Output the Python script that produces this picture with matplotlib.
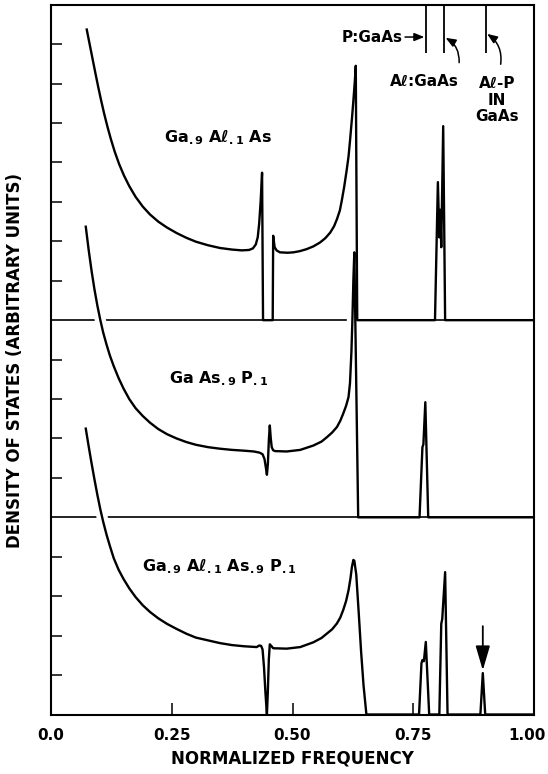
import matplotlib
matplotlib.use("Agg")
import matplotlib.pyplot as plt
from matplotlib.transforms import ScaledTranslation
import numpy as np

plt.rcParams['font.family'] = ['DejaVu Sans']
plt.rcParams['font.weight'] = 'bold'
plt.rcParams['mathtext.default'] = 'regular'

# normalized frequency / density of states (arbitrary units, above each baseline)
f_alas = [0.074, 0.080, 0.086, 0.092, 0.098, 0.104, 0.110, 0.117, 0.124, 0.132,
          0.141, 0.151, 0.162, 0.175, 0.190, 0.205, 0.222, 0.240, 0.260, 0.280,
          0.300, 0.325, 0.350, 0.375, 0.395, 0.410, 0.418, 0.424, 0.428, 0.431,
          0.434, 0.437, 0.439, 0.459, 0.460, 0.463, 0.467, 0.474, 0.490, 0.502,
          0.515, 0.529, 0.543, 0.557, 0.568, 0.578, 0.586, 0.592, 0.598, 0.602,
          0.607, 0.612, 0.616, 0.619, 0.623, 0.626, 0.629, 0.631, 0.634, 0.795,
          0.801, 0.804, 0.806, 0.808, 0.812, 0.816, 1.0]
d_alas = [7.37, 7.00, 6.63, 6.26, 5.90, 5.56, 5.24, 4.90, 4.59, 4.27,
          3.96, 3.67, 3.40, 3.13, 2.88, 2.68, 2.50, 2.35, 2.21, 2.09,
          1.99, 1.90, 1.83, 1.79, 1.77, 1.78, 1.82, 1.92, 2.10, 2.45,
          3.00, 3.74, 0.0, 0.0, 2.14, 1.85, 1.77, 1.72, 1.71, 1.72,
          1.75, 1.80, 1.87, 1.97, 2.08, 2.22, 2.38, 2.56, 2.78, 3.03,
          3.38, 3.79, 4.15, 4.54, 5.10, 5.56, 6.05, 6.45, 0.0, 0.0,
          3.50, 2.10, 2.80, 1.85, 4.92, 0.0, 0.0]

f_asp = [0.072, 0.078, 0.084, 0.090, 0.096, 0.102, 0.108, 0.115, 0.122, 0.130,
         0.140, 0.150, 0.162, 0.175, 0.190, 0.205, 0.222, 0.240, 0.260, 0.280,
         0.300, 0.325, 0.350, 0.375, 0.400, 0.420, 0.432, 0.438, 0.442, 0.445,
         0.447, 0.449, 0.451, 0.453, 0.455, 0.457, 0.460, 0.464, 0.488, 0.516,
         0.543, 0.560, 0.571, 0.582, 0.592, 0.599, 0.605, 0.611, 0.616, 0.619,
         0.622, 0.624, 0.626, 0.628, 0.636, 0.763, 0.769, 0.771, 0.775, 0.781,
         1.0]
d_asp = [7.37, 6.78, 6.25, 5.78, 5.37, 5.01, 4.69, 4.38, 4.10, 3.83,
         3.53, 3.27, 3.00, 2.77, 2.57, 2.40, 2.24, 2.11, 2.00, 1.91,
         1.84, 1.78, 1.74, 1.71, 1.69, 1.67, 1.64, 1.60, 1.48, 1.25,
         1.08, 1.35, 1.95, 2.33, 2.00, 1.78, 1.70, 1.68, 1.67, 1.71,
         1.82, 1.92, 2.03, 2.15, 2.29, 2.45, 2.63, 2.83, 3.05, 3.40,
         4.20, 5.00, 6.00, 6.72, 0.0, 0.0, 1.78, 1.85, 2.92, 0.0,
         0.0]

f_alasp = [0.072, 0.078, 0.084, 0.090, 0.096, 0.102, 0.108, 0.115, 0.122, 0.130,
           0.140, 0.150, 0.162, 0.175, 0.190, 0.205, 0.222, 0.240, 0.260, 0.280,
           0.300, 0.325, 0.350, 0.375, 0.400, 0.426, 0.431, 0.435, 0.438, 0.441,
           0.444, 0.447, 0.449, 0.451, 0.453, 0.456, 0.460, 0.488, 0.516, 0.543,
           0.560, 0.571, 0.582, 0.592, 0.599, 0.605, 0.611, 0.616, 0.620, 0.623,
           0.626, 0.628, 0.632, 0.637, 0.642, 0.647, 0.653, 0.762, 0.767, 0.769,
           0.772, 0.776, 0.783, 0.804, 0.808, 0.810, 0.816, 0.821, 0.889, 0.894,
           0.899, 1.0]
d_alasp = [7.25, 6.80, 6.37, 5.96, 5.57, 5.21, 4.89, 4.56, 4.27, 3.96,
           3.67, 3.44, 3.20, 2.98, 2.77, 2.60, 2.44, 2.30, 2.17, 2.05,
           1.95, 1.88, 1.81, 1.76, 1.73, 1.71, 1.75, 1.74, 1.65, 1.20,
           0.55, 0.0, 0.60, 1.40, 1.78, 1.74, 1.68, 1.67, 1.71, 1.83,
           1.94, 2.05, 2.16, 2.31, 2.46, 2.65, 2.88, 3.15, 3.45, 3.74,
           3.92, 3.90, 3.55, 2.60, 1.60, 0.75, 0.0, 0.0, 1.30, 1.38,
           1.35, 1.84, 0.0, 0.0, 2.30, 2.42, 3.61, 0.0, 0.0, 1.05,
           0.0, 0.0]

curves = [(f_alas, d_alas), (f_asp, d_asp), (f_alasp, d_alasp)]
baselines = [10, 5, 0]
names = ['Ga$_{.9}$ Aℓ$_{.1}$ As', 'Ga As$_{.9}$ P$_{.1}$', 'Ga$_{.9}$ Aℓ$_{.1}$ As$_{.9}$ P$_{.1}$']
name_pos = [(0.233, 14.50), (0.245, 8.40), (0.188, 3.62)]

# impurity mode markers at top
marker_f = [0.776, 0.814, 0.900]

xticks = [0.0, 0.25, 0.50, 0.75, 1.00]
xticklabels = ['0.0', '0.25', '0.50', '0.75', '1.00']
yticks = [1, 2, 3, 4, 6, 7, 8, 9, 11, 12, 13, 14, 15, 16, 17]

fig = plt.figure(figsize=(5.48, 7.74), dpi=100)
ax = fig.add_axes([51 / 548, 59.5 / 774, 483 / 548, 709.8 / 774])
ax.set_xlim(0, 1)
ax.set_ylim(0, 18)

# layering: a lower curve's white halo breaks only the baselines above it
ax.axhline(10, color='k', lw=1.2, zorder=1.0)
ax.axhline(5, color='k', lw=1.2, zorder=1.2)
halo_z = [None, 1.1, 1.3]

for (f, d), b, hz in zip(curves, baselines, halo_z):
    y = np.array(d) + b
    if hz is not None:
        ax.plot(f, y, color='white', lw=8, zorder=hz, solid_capstyle='butt')
    ax.plot(f, y, color='k', lw=1.7, zorder=3)

for txt, (x, y) in zip(names, name_pos):
    ax.text(x, y, txt, fontsize=11.5, fontweight='bold', ha='left', va='baseline')

ax.vlines(marker_f, 16.77, 18, color='k', lw=1.3)

ax.text(0.728, 17.18, 'P:GaAs', fontsize=11, ha='right', va='center')
ax.annotate('', xy=(0.773, 17.18), xytext=(0.733, 17.18),
            arrowprops=dict(arrowstyle='-|>,head_length=0.5,head_width=0.2',
                            color='k', lw=1.1, mutation_scale=12, shrinkA=0, shrinkB=0))
ax.text(0.772, 16.05, 'Aℓ:GaAs', fontsize=11, ha='center', va='center')
ax.annotate('', xy=(0.817, 17.16), xytext=(0.845, 16.53),
            arrowprops=dict(arrowstyle='-|>,head_length=0.5,head_width=0.2',
                            connectionstyle='arc3,rad=0.3',
                            color='k', lw=1.1, mutation_scale=12, shrinkA=0, shrinkB=0))
ax.text(0.923, 15.58, 'Aℓ-P\nIN\nGaAs', fontsize=11, ha='center', va='center',
        linespacing=1.1)
ax.annotate('', xy=(0.903, 17.26), xytext=(0.931, 16.49),
            arrowprops=dict(arrowstyle='-|>,head_length=0.5,head_width=0.2',
                            connectionstyle='arc3,rad=0.3',
                            color='k', lw=1.1, mutation_scale=12, shrinkA=0, shrinkB=0))

# arrow over the Al-P peak in the quaternary
ax.annotate('', xy=(0.894, 1.12), xytext=(0.894, 2.24),
            arrowprops=dict(arrowstyle='-|>,head_length=0.75,head_width=0.22',
                            color='k', lw=1.3, mutation_scale=20, shrinkA=0, shrinkB=0))

ax.set_xticks(xticks)
ax.set_xticklabels(xticklabels, fontsize=11, fontweight='bold')
ax.set_yticks(yticks)
ax.tick_params(axis='x', direction='in', length=8.5, width=1.1, pad=9.5)
ax.tick_params(axis='y', direction='in', length=8, width=1.1, labelleft=False)
ax.xaxis.set_zorder(2.6)
ax.yaxis.set_zorder(2.6)
for s in ax.spines.values():
    s.set_linewidth(1.5)

# pull the last tick label in a little so it stays on the page
last = ax.get_xticklabels()[-1]
last.set_transform(last.get_transform() + ScaledTranslation(-0.07, 0, fig.dpi_scale_trans))

ax.set_xlabel('NORMALIZED FREQUENCY', fontsize=12, fontweight='bold')
ax.xaxis.set_label_coords(0.5, -0.049)
fig.text(15 / 548, 1 - 360 / 774, 'DENSITY OF STATES (ARBITRARY UNITS)', fontsize=12,
         fontweight='bold', rotation=90, ha='center', va='center')

fig.savefig('out.png', dpi=100)
